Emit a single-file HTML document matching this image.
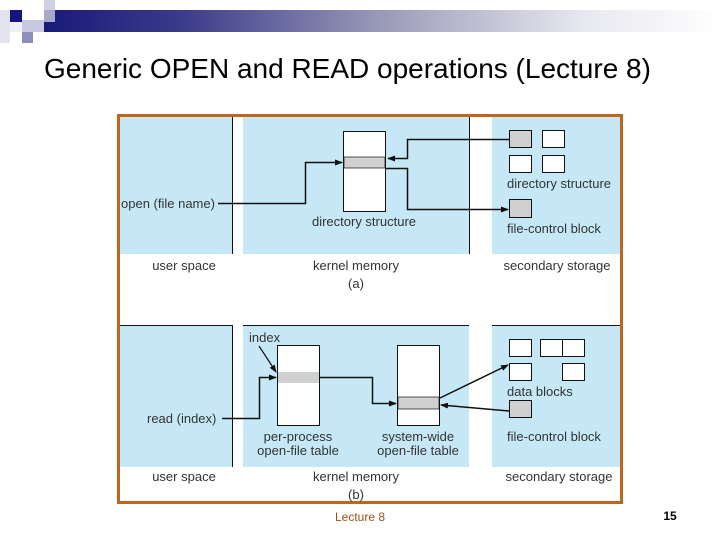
<!DOCTYPE html>
<html><head><meta charset="utf-8"><style>
body{margin:0;width:720px;height:540px;background:#fff;overflow:hidden;position:relative;font-family:"Liberation Sans",sans-serif}
.a{position:absolute}
</style></head><body>
<div class="a" style="left:44px;top:10px;width:676px;height:22px;background:linear-gradient(90deg,#1a1a7a 0%,#3a3a8a 20%,#9a9ab8 50%,#e8e8f0 80%,#fff 100%)"></div>
<div class="a" style="left:0;top:10px;width:10px;height:33px;background:#e4e4f0"></div>
<div class="a" style="left:10px;top:10px;width:12px;height:12px;background:#151580"></div>
<div class="a" style="left:10px;top:22px;width:12px;height:10px;background:#eeeef6"></div>
<div class="a" style="left:22px;top:20px;width:22px;height:12px;background:#c8c8e0"></div>
<div class="a" style="left:44px;top:0;width:11px;height:10px;background:#d0d0e4"></div>
<div class="a" style="left:44px;top:10px;width:11px;height:12px;background:#a8a8cc"></div>
<div class="a" style="left:22px;top:32px;width:11px;height:11px;background:#8e8ebe"></div>
<div class="a" style="left:44px;top:53px;font-size:28px;color:#000;white-space:nowrap">Generic OPEN and READ operations (Lecture 8)</div>
<svg class="a" style="left:0;top:0" width="720" height="540" font-family="Liberation Sans, sans-serif" font-size="13" fill="#333">
<defs><marker id="m" markerWidth="8" markerHeight="6" refX="7" refY="3" orient="auto" markerUnits="userSpaceOnUse"><path d="M0,0L8,3L0,6z" fill="#111"/></marker></defs>
<rect x="118.5" y="115.5" width="503" height="387" fill="#fff" stroke="#c0661a" stroke-width="3"/>
<g fill="#c6e8f6">
<rect x="120" y="117" width="112" height="137"/><rect x="243" y="117" width="226" height="137"/><rect x="492" y="117" width="128" height="137"/>
<rect x="120" y="325" width="112" height="142"/><rect x="243" y="325" width="226" height="142"/><rect x="492" y="325" width="128" height="142"/>
</g>
<g stroke="#111" stroke-width="1" fill="none">
<line x1="232.5" y1="117" x2="232.5" y2="254"/><line x1="469.5" y1="117" x2="469.5" y2="254"/>
<line x1="232.5" y1="325" x2="232.5" y2="467"/>
<line x1="120" y1="325.5" x2="232" y2="325.5"/><line x1="243" y1="325.5" x2="469" y2="325.5"/><line x1="492" y1="325.5" x2="620" y2="325.5"/>
</g>
<!-- panel a -->
<rect x="343.5" y="131.5" width="42" height="80" fill="#fff" stroke="#111"/>
<rect x="344" y="157" width="41" height="11" fill="#d0d0d0" stroke="#111" stroke-width="0.7"/>
<rect x="509.5" y="130.5" width="22" height="17" fill="#d0d0d0" stroke="#111"/>
<rect x="542.5" y="130.5" width="22" height="17" fill="#fff" stroke="#111"/>
<rect x="509.5" y="155.5" width="22" height="17" fill="#fff" stroke="#111"/>
<rect x="542.5" y="155.5" width="22" height="17" fill="#fff" stroke="#111"/>
<rect x="509.5" y="199.5" width="22" height="18" fill="#d0d0d0" stroke="#111"/>
<g stroke="#111" fill="none">
<polyline points="218,203.5 305.5,203.5 305.5,162.5 342,162.5" stroke-width="1.5" marker-end="url(#m)"/>
<polyline points="509,139.5 407.5,139.5 407.5,158.5 388,158.5" stroke-width="1.5" marker-end="url(#m)"/>
<polyline points="386,168.5 407.5,168.5 407.5,209.5 508,209.5" stroke-width="1.5" marker-end="url(#m)"/>
</g>
<text x="121" y="208">open (file name)</text>
<text x="364" y="226" text-anchor="middle">directory structure</text>
<text x="507" y="188">directory structure</text>
<text x="507" y="233">file-control block</text>
<text x="184" y="270" text-anchor="middle">user space</text>
<text x="356" y="270" text-anchor="middle">kernel memory</text>
<text x="356" y="288" text-anchor="middle">(a)</text>
<text x="557" y="270" text-anchor="middle">secondary storage</text>
<!-- panel b -->
<rect x="277.5" y="345.5" width="42" height="80" fill="#fff" stroke="#111"/>
<rect x="278" y="372" width="41" height="11" fill="#d0d0d0"/>
<rect x="397.5" y="345.5" width="42" height="80" fill="#fff" stroke="#111"/>
<rect x="398" y="397" width="41" height="12" fill="#d0d0d0" stroke="#111" stroke-width="0.7"/>
<g fill="#fff" stroke="#111">
<rect x="509.5" y="339.5" width="22" height="17"/><rect x="540.5" y="339.5" width="22" height="17"/><rect x="562.5" y="339.5" width="22" height="17"/>
<rect x="509.5" y="363.5" width="22" height="17"/><rect x="562.5" y="363.5" width="22" height="17"/>
<rect x="509.5" y="400.5" width="22" height="17" fill="#d0d0d0"/>
</g>
<g stroke="#111" fill="none">
<polyline points="222,418.5 259.5,418.5 259.5,377.5 276,377.5" stroke-width="1.5" marker-end="url(#m)"/>
<line x1="259" y1="346" x2="276" y2="372" stroke-width="1.2" marker-end="url(#m)"/>
<polyline points="319,377.5 372.5,377.5 372.5,403.5 396,403.5" stroke-width="1.5" marker-end="url(#m)"/>
<line x1="440" y1="398" x2="508" y2="365" stroke-width="1.5" marker-end="url(#m)"/>
<line x1="509" y1="411" x2="441" y2="405" stroke-width="1.5" marker-end="url(#m)"/>
</g>
<text x="249" y="342">index</text>
<text x="147" y="423">read (index)</text>
<text x="298" y="441" text-anchor="middle">per-process</text>
<text x="298" y="455" text-anchor="middle">open-file table</text>
<text x="418" y="441" text-anchor="middle">system-wide</text>
<text x="418" y="455" text-anchor="middle">open-file table</text>
<text x="507" y="396">data blocks</text>
<text x="507" y="441">file-control block</text>
<text x="184" y="481" text-anchor="middle">user space</text>
<text x="356" y="481" text-anchor="middle">kernel memory</text>
<text x="356" y="499" text-anchor="middle">(b)</text>
<text x="559" y="481" text-anchor="middle">secondary storage</text>
<text x="360" y="521" text-anchor="middle" font-size="12" fill="#a0501a">Lecture 8</text>
<text x="670" y="520" text-anchor="middle" font-size="12" font-weight="bold" fill="#000">15</text>
</svg>
</body></html>
